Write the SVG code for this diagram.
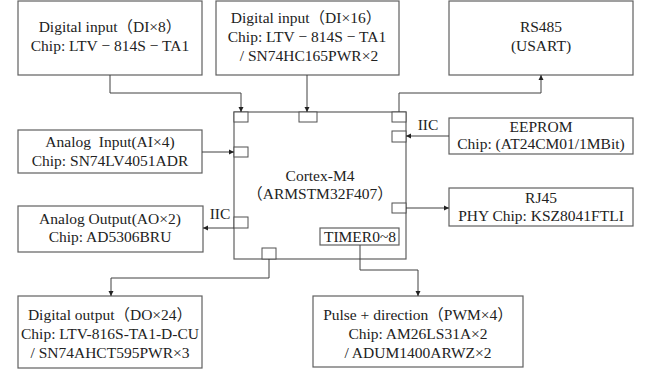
<svg xmlns="http://www.w3.org/2000/svg" width="649" height="373" viewBox="0 0 649 373">
<defs>
<marker id="arr" markerWidth="6" markerHeight="6" refX="5" refY="3" orient="auto" markerUnits="userSpaceOnUse">
<path d="M0,0.5 L5,3 L0,5.5 Z" fill="#222"/>
</marker>
<style>
.box{fill:#fff;stroke:#606060;stroke-width:1.2}
.sq{fill:#fff;stroke:#505050;stroke-width:1}
.t{font-family:"Liberation Serif","Noto Sans CJK SC",serif;font-size:15.5px;fill:#222;text-anchor:middle;white-space:pre}
.c{fill:none;stroke:#404040;stroke-width:1}
</style>
</defs>
<rect width="649" height="373" fill="#fff"/>
<g id="di8">
<rect class="box" x="18" y="1" width="184" height="74"/>
<text class="t" x="110" y="32">Digital input（DI×8）</text>
<text class="t" x="110" y="51">Chip: LTV − 814S − TA1</text>
</g>
<g id="di16">
<rect class="box" x="216" y="1" width="183" height="74"/>
<text class="t" x="306" y="23">Digital input（DI×16）</text>
<text class="t" x="307" y="42">Chip: LTV − 814S − TA1</text>
<text class="t" x="309" y="61">/ SN74HC165PWR×2</text>
</g>
<g id="rs485">
<rect class="box" x="449" y="1" width="184" height="74"/>
<text class="t" x="541" y="32">RS485</text>
<text class="t" x="541" y="51">(USART)</text>
</g>
<g id="ai">
<rect class="box" x="18" y="130" width="184" height="43"/>
<text class="t" x="110" y="147" xml:space="preserve">Analog  Input(AI×4)</text>
<text class="t" x="110" y="166">Chip: SN74LV4051ADR</text>
</g>
<g id="eeprom">
<rect class="box" x="449" y="118" width="184" height="36"/>
<text class="t" x="541" y="132">EEPROM</text>
<text class="t" x="541" y="149">Chip: (AT24CM01/1MBit)</text>
</g>
<g id="ao">
<rect class="box" x="18" y="206" width="185" height="46"/>
<text class="t" x="110" y="224">Analog Output(AO×2)</text>
<text class="t" x="110" y="242">Chip: AD5306BRU</text>
</g>
<g id="rj45">
<rect class="box" x="449" y="188" width="184" height="38"/>
<text class="t" x="541" y="203">RJ45</text>
<text class="t" x="541" y="221">PHY Chip: KSZ8041FTLI</text>
</g>
<g id="cpu">
<rect class="box" x="234" y="112" width="172" height="147"/>
<rect class="sq" x="234" y="112" width="14" height="10"/>
<rect class="sq" x="299" y="112" width="18" height="10"/>
<rect class="sq" x="392" y="112" width="14" height="10"/>
<rect class="sq" x="392" y="131" width="14" height="11"/>
<rect class="sq" x="234" y="147" width="14" height="10"/>
<rect class="sq" x="392" y="203" width="14" height="10"/>
<rect class="sq" x="234" y="217" width="14" height="11"/>
<rect class="sq" x="262" y="248" width="14" height="11"/>
<text class="t" x="320" y="181">Cortex-M4</text>
<text class="t" x="320" y="199">（ARMSTM32F407）</text>
</g>
<g id="timer">
<rect class="box" x="320" y="228" width="79" height="17"/>
<text class="t" x="360" y="242">TIMER0~8</text>
</g>
<g id="do">
<rect class="box" x="18" y="296" width="184" height="72"/>
<text class="t" x="110" y="320">Digital output（DO×24）</text>
<text class="t" x="110" y="339">Chip: LTV-816S-TA1-D-CU</text>
<text class="t" x="110" y="358">/ SN74AHCT595PWR×3</text>
</g>
<g id="pwm">
<rect class="box" x="313" y="296" width="210" height="71"/>
<text class="t" x="418" y="320">Pulse + direction（PWM×4）</text>
<text class="t" x="418" y="339">Chip: AM26LS31A×2</text>
<text class="t" x="418" y="358">/ ADUM1400ARWZ×2</text>
</g>
<g id="connectors">
<path class="c" d="M110,75 V93 H241 V112" marker-end="url(#arr)"/>
<path class="c" d="M307,75 V112" marker-end="url(#arr)"/>
<path class="c" d="M399,112 V93 H541 V75" marker-end="url(#arr)"/>
<path class="c" d="M202,152 H234" marker-end="url(#arr)"/>
<path class="c" d="M449,136 H406" marker-end="url(#arr)"/>
<path class="c" d="M234,228 H203" marker-end="url(#arr)"/>
<path class="c" d="M406,208 H449" marker-end="url(#arr)"/>
<path class="c" d="M269,259 V278 H111 V296" marker-end="url(#arr)"/>
<path class="c" d="M360,245 V270 H418 V296" marker-end="url(#arr)"/>
<text class="t" x="428" y="130">IIC</text>
<text class="t" x="220" y="219">IIC</text>
</g>
</svg>
